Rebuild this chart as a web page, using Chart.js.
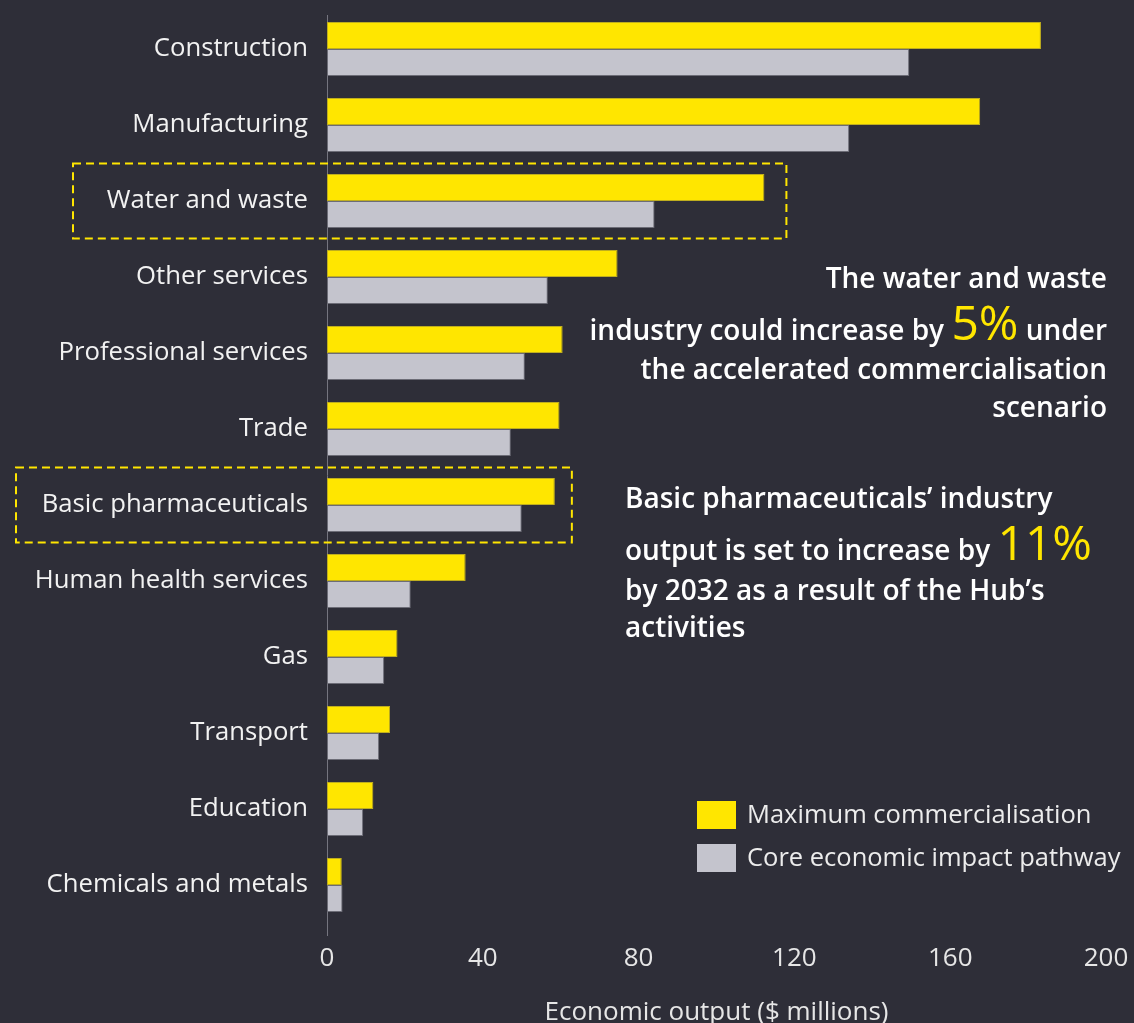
<!DOCTYPE html>
<html>
<head>
<meta charset="utf-8">
<script src="https://cdn.jsdelivr.net/npm/chart.js@4"></script>
<style>
  html, body { margin:0; padding:0; background:#2e2e38; }
  #wrap { width:1134px; height:1023px; position:relative; }
</style>
</head>
<body>
<div id="wrap"><canvas id="c" width="1134" height="1023"></canvas></div>
<script>
const categories = ["Construction","Manufacturing","Water and waste","Other services","Professional services","Trade","Basic pharmaceuticals","Human health services","Gas","Transport","Education","Chemicals and metals"];
const maxCommercialisation = [183.3,167.7,112.3,74.6,60.5,59.7,58.5,35.6,18.1,16.2,11.9,3.8];
const corePathway = [149.5,134.1,84.1,56.7,50.8,47.2,50.0,21.5,14.7,13.4,9.3,4.0];
const xTicks = [0,40,80,120,160,200];
const seriesNames = ["Maximum commercialisation","Core economic impact pathway"];
const highlighted = ["Water and waste","Basic pharmaceuticals"];

const FONT = "'Open Sans', 'DejaVu Sans', sans-serif";
const YELLOW = '#ffe600', GREY = '#c4c4cd';

const bgPlugin = {
  id:'bg',
  beforeDraw(chart){
    const ctx = chart.ctx;
    ctx.save(); ctx.fillStyle = '#2e2e38'; ctx.fillRect(0,0,chart.width,chart.height); ctx.restore();
  },
  beforeDatasetsDraw(chart){
    const ctx = chart.ctx, xs = chart.scales.x, ca = chart.chartArea;
    const x0 = Math.round(xs.getPixelForValue(0)) + 0.5;
    ctx.save();
    ctx.strokeStyle = '#75757f'; ctx.lineWidth = 1;
    ctx.beginPath(); ctx.moveTo(x0, ca.top + 4); ctx.lineTo(x0, ca.bottom + 13); ctx.stroke();
    ctx.restore();
  }
};

const overlayPlugin = {
  id:'overlay',
  afterDraw(chart){
    const ctx = chart.ctx;
    const ys = chart.scales.y, xs = chart.scales.x;
    const boxes = [
      {cat: highlighted[0], left: 73, extra: 22},
      {cat: highlighted[1], left: 16, extra: 17}
    ];
    ctx.save();
    ctx.strokeStyle = YELLOW; ctx.lineWidth = 2; ctx.setLineDash([8,5]);
    boxes.forEach(b => {
      const i = categories.indexOf(b.cat);
      const cy = ys.getPixelForValue(i);
      const right = xs.getPixelForValue(maxCommercialisation[i]) + b.extra;
      ctx.strokeRect(b.left, cy - 37.5, right - b.left, 75);
    });
    ctx.restore();

    function drawLine(parts, x, y, align){
      ctx.save();
      ctx.textBaseline = 'alphabetic';
      let widths = parts.map(p => { ctx.font = p.font; return ctx.measureText(p.t).width; });
      let total = widths.reduce((a,b)=>a+b,0);
      let cx = align === 'right' ? x - total : x;
      parts.forEach((p,k) => {
        ctx.font = p.font; ctx.fillStyle = p.c; ctx.textAlign = 'left';
        ctx.fillText(p.t, cx, y); cx += widths[k];
      });
      ctx.restore();
    }
    const tf = "600 28px " + FONT;
    const bf = "400 48px " + FONT;
    const W = '#ffffff';
    drawLine([{t:"The water and waste", font:tf, c:W}], 1107, 288, 'right');
    drawLine([{t:"industry could increase by ", font:tf, c:W},{t:"5%", font:bf, c:YELLOW},{t:" under", font:tf, c:W}], 1107, 340, 'right');
    drawLine([{t:"the accelerated commercialisation", font:tf, c:W}], 1107, 379, 'right');
    drawLine([{t:"scenario", font:tf, c:W}], 1107, 417, 'right');

    drawLine([{t:"Basic pharmaceuticals\u2019 industry", font:tf, c:W}], 625, 508, 'left');
    drawLine([{t:"output is set to increase by ", font:tf, c:W},{t:"11%", font:bf, c:YELLOW}], 625, 560, 'left');
    drawLine([{t:"by 2032 as a result of the Hub\u2019s", font:tf, c:W}], 625, 600, 'left');
    drawLine([{t:"activities", font:tf, c:W}], 625, 637, 'left');

    ctx.save();
    chart.data.datasets.forEach((ds, k) => {
      const top = 801 + k*43;
      ctx.fillStyle = ds.backgroundColor;
      ctx.fillRect(697, top, 39, 28);
      ctx.fillStyle = '#ececec';
      ctx.font = "400 25.5px " + FONT;
      ctx.textBaseline = 'middle';
      ctx.textAlign = 'left';
      ctx.fillText(ds.label, 747, top + 15);
    });
    ctx.restore();
  }
};

new Chart(document.getElementById('c'), {
  type:'bar',
  data:{
    labels: categories,
    datasets:[
      {label: seriesNames[0], data: maxCommercialisation, backgroundColor: YELLOW, borderColor:'#bfae1e', borderWidth:1, borderSkipped:false},
      {label: seriesNames[1], data: corePathway, backgroundColor: GREY, borderColor:'#6c6c76', borderWidth:1, borderSkipped:false}
    ]
  },
  options:{
    indexAxis:'y',
    responsive:false,
    animation:false,
    layout:{padding:{top:11, right:28, left:0, bottom:0}},
    datasets:{bar:{categoryPercentage:0.71, barPercentage:1.0}},
    plugins:{legend:{display:false}, tooltip:{enabled:false}},
    scales:{
      x:{
        min:0, max:200,
        afterBuildTicks(s){ s.ticks = xTicks.map(v => ({value:v})); },
        afterFit(s){ s.height = 100; s.paddingLeft = 0; s.paddingRight = 0; },
        grid:{display:false, drawTicks:false},
        border:{display:false},
        ticks:{color:'#e6e6e6', font:{family:FONT, size:26}, padding:20, maxRotation:0},
        title:{display:true, text:'Economic output ($ millions)', color:'#e6e6e6', font:{family:FONT, size:26}, padding:{top:19, bottom:-5}}
      },
      y:{
        afterFit(s){ s.width = 327; s.paddingTop = 0; s.paddingBottom = 0; },
        grid:{display:false, drawTicks:false},
        border:{display:false},
        ticks:{color:'#f2f2f2', font:{family:FONT, size:25.7}, padding:19, autoSkip:false}
      }
    }
  },
  plugins:[bgPlugin, overlayPlugin]
});
</script>
</body>
</html>
